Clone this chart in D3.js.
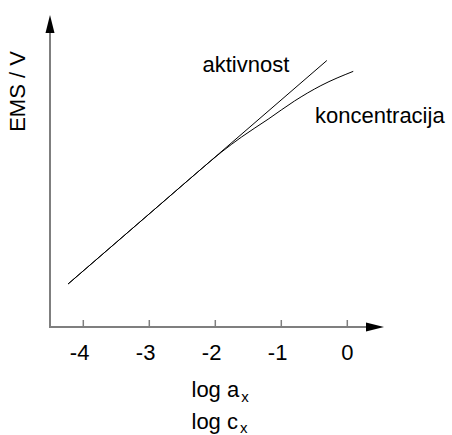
<!DOCTYPE html>
<html>
<head>
<meta charset="utf-8">
<script src="https://cdn.jsdelivr.net/npm/d3@7"></script>
<style>
  html, body { margin: 0; padding: 0; background: #fff; }
  svg { display: block; font-family: Arial, "Liberation Sans", sans-serif; }
</style>
</head>
<body>
<svg id="chart" width="452" height="435"></svg>
<script>
// ---- data ----
const xTicks = [-4, -3, -2, -1, 0];
const xTickLabels = ["-4", "-3", "-2", "-1", "0"];
const activityLog = [-4.23, -0.31];
const activityE = [0.72, 4.64];
const concLog = [-4.23, -3.5, -2.8, -2.2, -1.9, -1.6, -1.2, -0.8, -0.4, 0.09];
const concE = [0.72, 1.45, 2.15, 2.75, 3.04, 3.30, 3.61, 3.93, 4.20, 4.45];
const seriesLabels = ["aktivnost", "koncentracija"];
const yLabel = "EMS / V";

// ---- layout ----
const svg = d3.select("#chart");
const x = d3.scaleLinear().domain([-4, 0]).range([83.3, 347.3]);
const y = d3.scaleLinear().domain([0, 5.5]).range([325, 11.5]);
const axisX0 = 50, axisY0 = 327;
const axisColor = "#7f7f7f";
const fs = 22;

// axes lines
svg.append("line").attr("x1", axisX0).attr("x2", axisX0).attr("y1", axisY0).attr("y2", 30)
  .attr("stroke", axisColor).attr("stroke-width", 2);
svg.append("line").attr("x1", axisX0 - 1).attr("x2", 368).attr("y1", axisY0).attr("y2", axisY0)
  .attr("stroke", axisColor).attr("stroke-width", 2);
// arrowheads
svg.append("path").attr("d", `M${axisX0},15 L${axisX0 - 4.5},33 L${axisX0 + 4.5},33 Z`).attr("fill", "#000");
svg.append("path").attr("d", `M384,${axisY0} L366,${axisY0 - 4.5} L366,${axisY0 + 4.5} Z`).attr("fill", "#000");

// ticks
svg.selectAll("line.tick").data(xTicks).enter().append("line").attr("class", "tick")
  .attr("x1", d => x(d)).attr("x2", d => x(d)).attr("y1", axisY0 - 7).attr("y2", axisY0)
  .attr("stroke", axisColor).attr("stroke-width", 1.5);

// tick labels (digit centered on tick)
svg.selectAll("text.tl").data(xTicks).enter().append("text").attr("class", "tl")
  .attr("x", d => x(d) + 0.278 * fs).attr("y", 360)
  .attr("text-anchor", "end").attr("font-size", fs).attr("fill", "#000")
  .text((d, i) => xTickLabels[i]);

// x axis titles
const t1 = svg.append("text").attr("x", 191.5).attr("y", 396.5).attr("font-size", fs).attr("fill", "#000");
t1.append("tspan").text("log a");
t1.append("tspan").attr("dx", 2).attr("dy", 5).attr("font-size", 15).text("x");
const t2 = svg.append("text").attr("x", 191.5).attr("y", 429).attr("font-size", fs).attr("fill", "#000");
t2.append("tspan").text("log c");
t2.append("tspan").attr("dx", 2).attr("dy", 4).attr("font-size", 15).text("x");

// y label
svg.append("text").attr("transform", "translate(25,91.5) rotate(-90)")
  .attr("text-anchor", "middle").attr("font-size", fs).attr("fill", "#000").text(yLabel);

// curves
const line = d3.line().x(d => x(d[0])).y(d => y(d[1])).curve(d3.curveMonotoneX);
svg.append("path").datum(activityLog.map((v, i) => [v, activityE[i]]))
  .attr("d", line).attr("fill", "none").attr("stroke", "#000").attr("stroke-width", 1);
svg.append("path").datum(concLog.map((v, i) => [v, concE[i]]))
  .attr("d", line).attr("fill", "none").attr("stroke", "#000").attr("stroke-width", 1);

// series labels
svg.append("text").attr("x", 202.5).attr("y", 71.5).attr("font-size", fs).attr("fill", "#000").text(seriesLabels[0]);
svg.append("text").attr("x", 315).attr("y", 123).attr("font-size", fs).attr("fill", "#000").text(seriesLabels[1]);
</script>
</body>
</html>
